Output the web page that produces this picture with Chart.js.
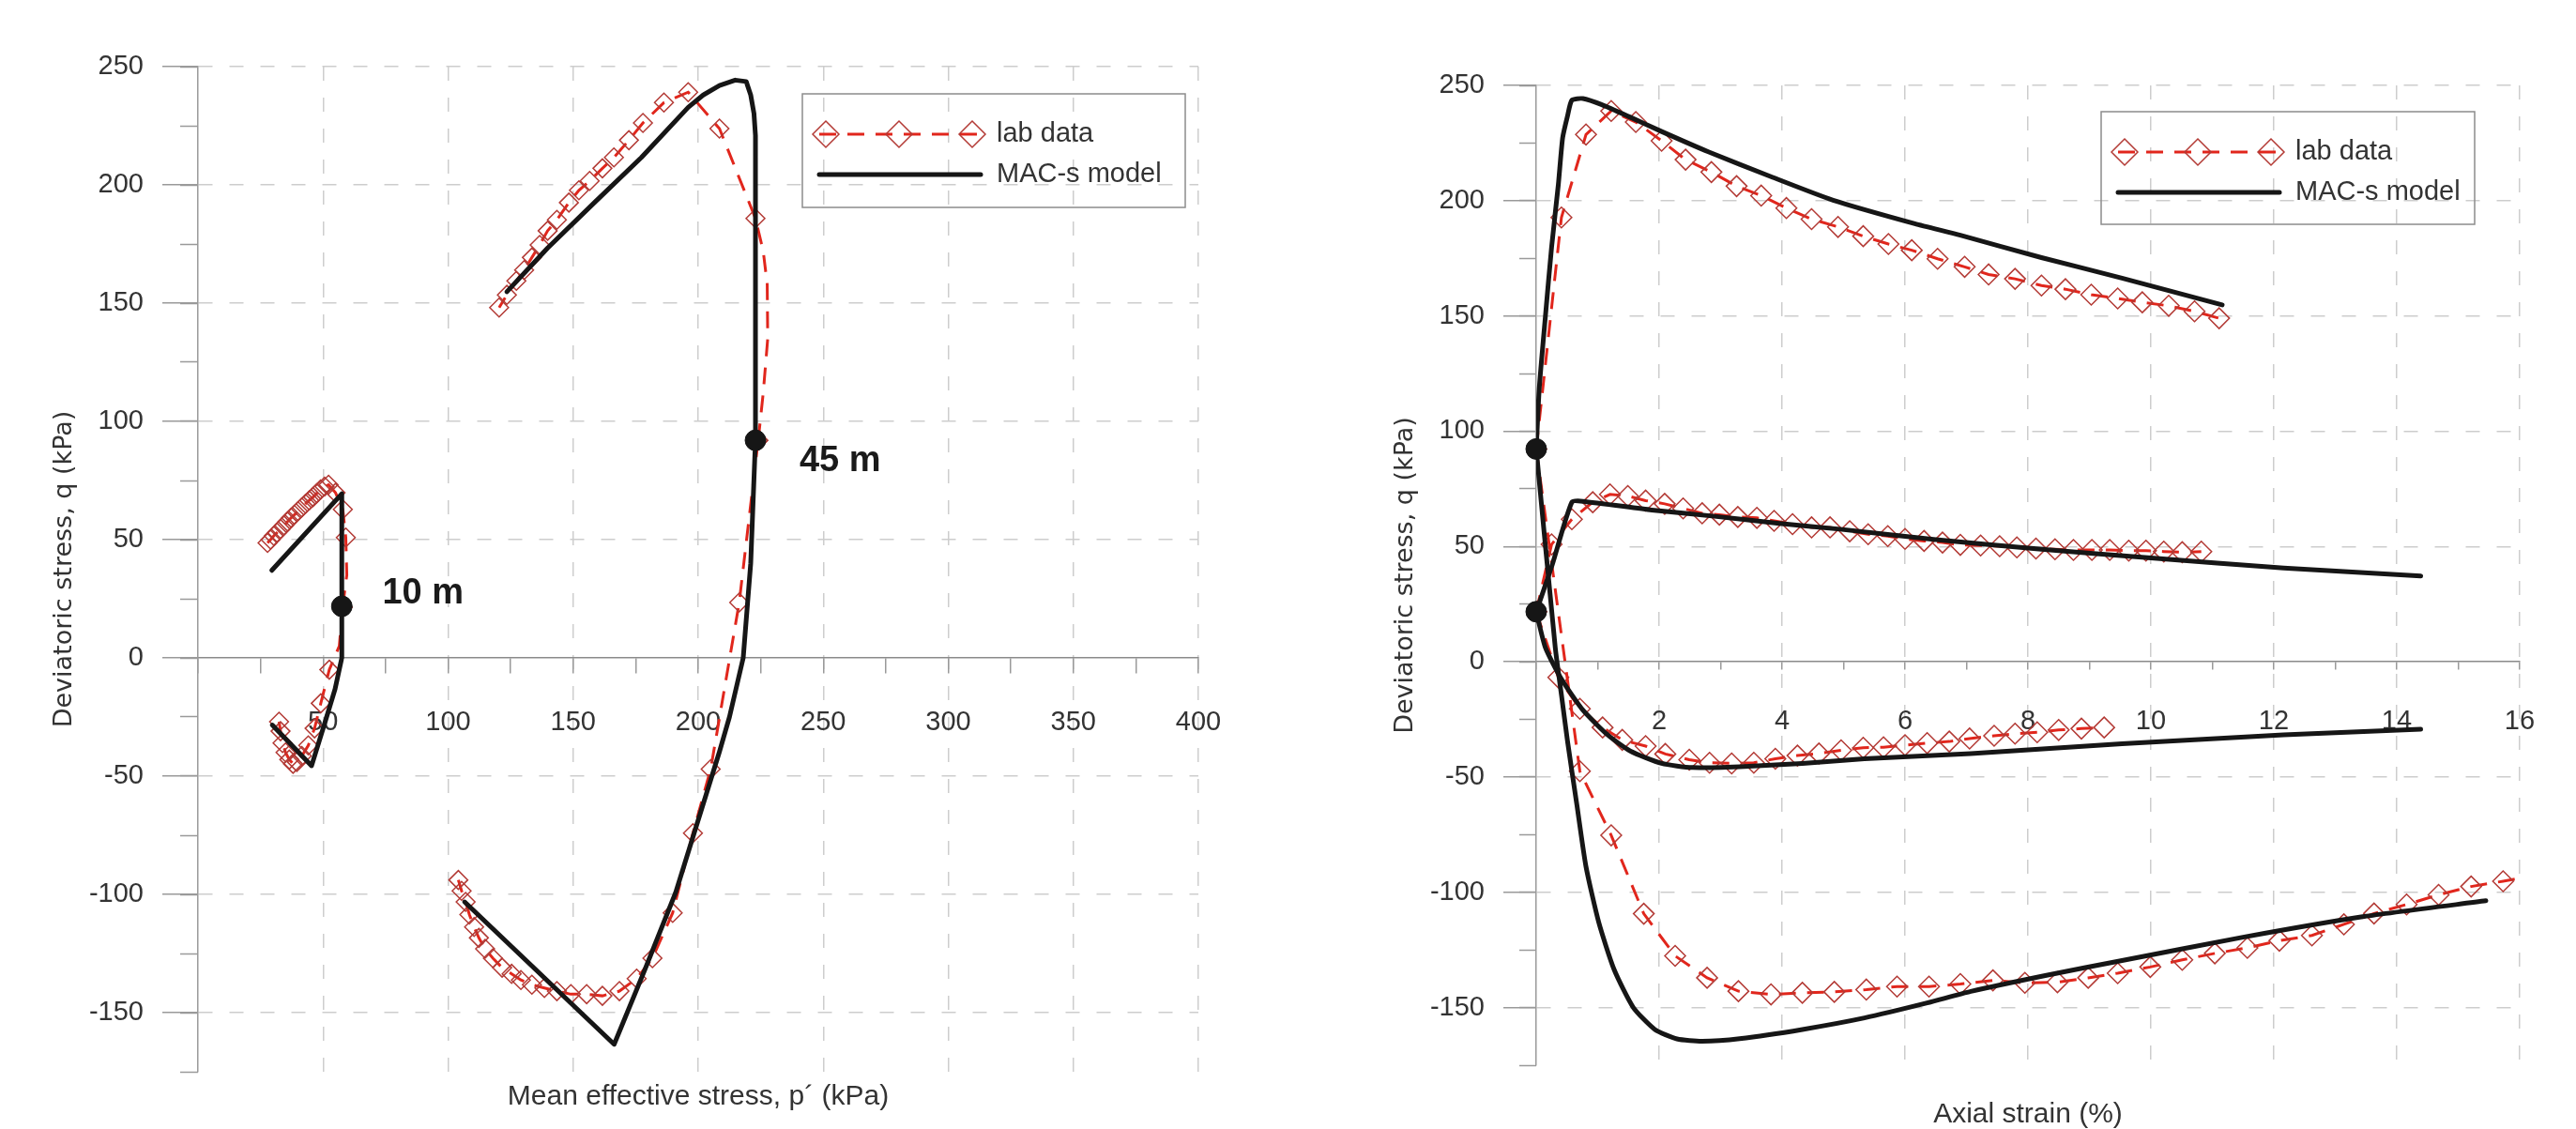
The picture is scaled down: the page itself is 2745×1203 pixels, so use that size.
<!DOCTYPE html>
<html>
<head>
<meta charset="utf-8">
<script src="https://cdn.jsdelivr.net/npm/chart.js@4.4.1/dist/chart.umd.min.js"></script>
<style>
  html, body { margin: 0; padding: 0; background: #fff; }
  #wrap { position: relative; width: 2745px; height: 1203px; overflow: hidden; }
  canvas { position: absolute; top: 0; }
  #cLeft  { left: 0; }
  #cRight { left: 1380px; }
</style>
</head>
<body>
<div id="wrap">
  <canvas id="cLeft" width="1380" height="1203"></canvas>
  <canvas id="cRight" width="1365" height="1203"></canvas>
</div>
<script>
// ── stress path p'–q (left) ─────────────────────────────
var pDots = [222.9, 57.5];
var qDots = [92.0, 21.8];

var p45cLab = [224.0, 226.0, 227.8, 227.6, 226.0, 222.9, 208.5, 196.0, 186.3, 177.9, 172.3, 166.3, 161.7, 156.6, 152.3, 148.3, 143.5, 139.8, 136.6, 133.5, 130.4, 127.3, 123.5, 120.4];
var q45cLab = [92.0, 112.0, 135.0, 158.0, 172.0, 185.8, 223.8, 239.2, 234.8, 226.2, 218.9, 211.6, 207.0, 201.7, 197.7, 192.5, 185.2, 180.6, 174.6, 169.3, 164.0, 159.4, 153.5, 148.1];
var p45eLab = [224.0, 216.4, 205.0, 197.9, 189.8, 181.7, 175.4, 168.5, 161.7, 155.4, 149.1, 143.5, 138.5, 133.5, 129.1, 125.4, 121.6, 117.9, 114.8, 112.3, 110.4, 108.5, 107.0, 105.4, 104.1];
var q45eLab = [92.0, 23.4, -47.0, -74.1, -107.8, -127.0, -135.6, -140.9, -142.9, -142.2, -142.2, -140.9, -139.6, -138.2, -136.2, -133.6, -131.0, -127.0, -123.0, -118.4, -113.8, -108.5, -103.2, -98.5, -93.9];
var p45cMod = [222.9, 222.9, 222.3, 221.0, 219.2, 214.8, 208.5, 202.0, 196.0, 177.3, 158.5, 139.8, 123.5];
var q45cMod = [92.0, 220.9, 230.2, 238.0, 243.7, 244.3, 242.0, 238.0, 232.8, 211.6, 192.5, 173.3, 154.8];
var p45eMod = [222.9, 221.0, 218.0, 212.5, 208.5, 191.0, 178.5, 166.4, 106.6];
var q45eMod = [92.0, 40.0, 0.0, -25.0, -39.7, -99.2, -132.3, -163.4, -103.2];

var p10cLab = [57.8, 59.5, 59.1, 57.9, 55.0, 52.2, 50.6, 49.0, 47.5, 46.0, 44.5, 43.0, 41.5, 40.0, 38.5, 37.2, 35.8, 34.4, 33.0, 31.6, 30.3, 29.0, 27.8];
var q10cLab = [21.4, 35.0, 50.9, 62.8, 69.8, 73.2, 72.4, 71.2, 69.6, 68.0, 66.6, 65.2, 63.6, 62.0, 60.5, 59.2, 57.6, 56.0, 54.5, 53.0, 51.6, 50.0, 48.6];
var p10eLab = [57.8, 56.5, 52.5, 49.1, 46.6, 44.1, 41.5, 39.5, 38.0, 36.5, 35.0, 33.8, 33.0, 32.4];
var q10eLab = [21.4, 5.0, -5.0, -19.2, -29.8, -37.0, -41.5, -44.0, -44.8, -43.0, -40.0, -36.0, -31.0, -27.0];
var p10cMod = [57.5, 57.5, 29.5];
var q10cMod = [21.8, 69.4, 37.0];
var p10eMod = [57.5, 57.5, 54.8, 51.0, 45.4, 29.7];
var q10eMod = [21.8, 0.0, -13.2, -26.5, -45.6, -28.4];

// points of the lab curves that are drawn as line only (no marker)
var lineOnly45c = [1, 2, 3, 4];
var lineOnly10c = [1];
var lineOnly10e = [1];

// ── q vs axial strain (right) ───────────────────────────
var eDots = [0, 0];
var qeDots = [92.3, 21.7];

var e45cMod = [0, 0.05, 0.15, 0.25, 0.36, 0.43, 0.51, 0.58, 0.76, 1.07, 1.53, 2.04, 2.8, 3.82, 4.83, 6.16, 6.9, 8.22, 9.53, 11.16];
var r45cMod = [92.3, 118.8, 150, 179.8, 207, 227.3, 236.8, 243.6, 244.3, 241.6, 236.2, 230, 221.2, 210.4, 200.2, 190, 185, 175.3, 166.4, 154.8];
var e45cLab = [0, 0.41, 0.81, 1.22, 1.62, 2.04, 2.43, 2.85, 3.26, 3.66, 4.07, 4.48, 4.91, 5.32, 5.73, 6.11, 6.53, 6.97, 7.36, 7.79, 8.22, 8.61, 9.03, 9.46, 9.86, 10.29, 10.71, 11.11];
var r45cLab = [92.3, 192.7, 228.7, 238.9, 234.1, 226, 217.8, 212.4, 206.3, 202.2, 196.8, 192, 188.6, 184.6, 181.2, 178.5, 174.8, 171.3, 168, 166.1, 163.2, 161.6, 159.2, 157.6, 155.9, 154.4, 152, 149];

var e10cMod = [0, 0.26, 0.58, 0.76, 1.88, 2.9, 3.92, 4.94, 6.5, 8.22, 10.0, 12.16, 14.39];
var r10cMod = [21.7, 42, 69.2, 69.6, 65.8, 63.1, 60.1, 57.5, 53, 48.8, 45, 40.7, 37.2];
var e10cLab = [0, 0.25, 0.58, 0.92, 1.2, 1.49, 1.78, 2.09, 2.39, 2.7, 2.98, 3.28, 3.59, 3.87, 4.17, 4.48, 4.78, 5.1, 5.4, 5.72, 6.0, 6.31, 6.61, 6.9, 7.23, 7.54, 7.82, 8.13, 8.44, 8.74, 9.04, 9.33, 9.64, 9.92, 10.21, 10.51, 10.82];
var r10cLab = [21.7, 50.9, 61.8, 69.2, 72.6, 71.9, 69.9, 68.5, 66.5, 64.4, 63.8, 62.8, 62.4, 61.1, 59.7, 58.3, 58.3, 56.6, 55.3, 54.5, 53.3, 52.4, 51.7, 50.7, 50.4, 50.1, 49.6, 49.1, 48.8, 48.5, 48.5, 48.5, 48.2, 48.2, 47.8, 47.5, 47.8];

var e10eMod = [0, 0.15, 0.41, 0.76, 1.17, 1.53, 2.04, 2.54, 3.31, 4.33, 5.34, 7.07, 9.53, 12.16, 14.39];
var r10eMod = [21.7, 6.1, -7.5, -21, -31.9, -38.7, -44.1, -45.9, -45.5, -44.1, -42.1, -39.8, -35.6, -31.7, -29.3];
var e10eLab = [0, 0.36, 0.71, 1.08, 1.4, 1.78, 2.1, 2.49, 2.82, 3.18, 3.54, 3.89, 4.25, 4.6, 4.96, 5.32, 5.65, 6.0, 6.36, 6.72, 7.05, 7.45, 7.79, 8.15, 8.5, 8.87, 9.24];
var r10eLab = [21.7, -6.8, -20.4, -28.5, -33.9, -36.6, -40, -42.5, -43.8, -44.1, -43.8, -42.1, -40.7, -39.8, -38.4, -37.3, -37.1, -36.2, -35.3, -34.6, -33.3, -32.1, -31.2, -30.6, -29.6, -29, -28.5];

var e45eMod = [0, 0.31, 0.41, 0.51, 0.66, 0.81, 1.02, 1.27, 1.58, 1.93, 2.29, 2.7, 3.31, 4.33, 5.34, 6.36, 7.07, 8.3, 9.53, 11.5, 13.47, 15.45];
var r45eMod = [92.3, 6.1, -14.3, -34.6, -61.8, -88.9, -113.3, -133.7, -150, -159.5, -163.6, -164.6, -163.5, -159.5, -154.5, -148, -143, -136, -129.6, -119.5, -110.5, -103.7];
var e45eLab = [0, 0.71, 1.22, 1.75, 2.26, 2.78, 3.29, 3.82, 4.33, 4.85, 5.37, 5.87, 6.39, 6.9, 7.43, 7.95, 8.48, 8.98, 9.46, 9.99, 10.51, 11.04, 11.57, 12.09, 12.62, 13.14, 13.63, 14.16, 14.68, 15.21, 15.73, 16.3];
var r45eLab = [92.3, -47.5, -75.3, -109.3, -127.6, -137.1, -142.9, -144.3, -143.6, -143.2, -142.2, -140.9, -140.9, -139.8, -138.2, -139.3, -139, -137.1, -135.1, -132.4, -129.3, -126.5, -124.1, -121, -118.7, -113.9, -109.2, -105.3, -101.1, -97.5, -95.2, -92.5];

// ── styles ──────────────────────────────────────────────
var RED_LINE = "#e1261c";
var RED_MARK = "#b33a35";
var BLACK    = "#161616";
var GRID     = "#cdcdcd";
var AXIS     = "#9a9a9a";
var DASH     = [15, 18];
var SANS     = '"Liberation Sans", Arial, sans-serif';

Chart.defaults.font.family = SANS;
Chart.defaults.color = "#333";

function pts(xs, ys) {
  return xs.map(function(x, i) { return { x: x, y: ys[i] }; });
}

function labSet(xs, ys, r, lineOnly) {
  var skip = lineOnly || [];
  return {
    data: pts(xs, ys), showLine: true,
    borderColor: RED_LINE, borderWidth: 3, borderDash: [18, 12],
    pointStyle: "rectRot",
    pointRadius: function(ctx) { return skip.indexOf(ctx.dataIndex) >= 0 ? 0 : r; },
    pointHoverRadius: r,
    pointBorderColor: RED_MARK, pointBorderWidth: 1.5,
    pointBackgroundColor: "rgba(0,0,0,0)", tension: 0
  };
}

function modelSet(xs, ys, tension) {
  return {
    data: pts(xs, ys), showLine: true,
    borderColor: BLACK, borderWidth: 5, pointRadius: 0, pointHoverRadius: 0,
    borderCapStyle: "round", borderJoinStyle: "round", tension: tension
  };
}

function dotSet(xs, ys) {
  return {
    data: pts(xs, ys), showLine: false, clip: false,
    pointRadius: 11, pointHoverRadius: 11,
    pointBackgroundColor: BLACK, pointBorderColor: BLACK
  };
}

function isMajor(v, step) {
  return Math.abs(v / step - Math.round(v / step)) < 1e-6;
}

// legend box and depth labels
function drawDiamond(ctx, x, y, r) {
  ctx.beginPath();
  ctx.moveTo(x - r, y); ctx.lineTo(x, y - r); ctx.lineTo(x + r, y); ctx.lineTo(x, y + r);
  ctx.closePath();
  ctx.stroke();
}

var overlayPlugin = {
  id: "overlay",
  afterDatasetsDraw: function(chart, args, opts) {
    var ctx = chart.ctx;
    var xs = chart.scales.x, ys = chart.scales.y;
    ctx.save();
    (opts.labels || []).forEach(function(l) {
      ctx.font = "bold 38px " + SANS;
      ctx.fillStyle = "#1a1a1a";
      ctx.textAlign = "left";
      ctx.textBaseline = "middle";
      ctx.fillText(l.text, xs.getPixelForValue(l.x), ys.getPixelForValue(l.y));
    });
    var b = opts.box;
    if (b) {
      ctx.strokeStyle = "#8c8c8c"; ctx.lineWidth = 1.5;
      ctx.strokeRect(b.x, b.y, b.w, b.h);
      var y1 = b.y + 43, y2 = b.y + 86;
      ctx.strokeStyle = RED_LINE; ctx.lineWidth = 3; ctx.setLineDash([18, 12]);
      ctx.beginPath(); ctx.moveTo(b.x + 18, y1); ctx.lineTo(b.x + 190, y1); ctx.stroke();
      ctx.setLineDash([]);
      ctx.strokeStyle = RED_MARK; ctx.lineWidth = 1.5;
      [25, 103, 181].forEach(function(dx) { drawDiamond(ctx, b.x + dx, y1, 14); });
      ctx.strokeStyle = BLACK; ctx.lineWidth = 5; ctx.lineCap = "round";
      ctx.beginPath(); ctx.moveTo(b.x + 18, y2); ctx.lineTo(b.x + 190, y2); ctx.stroke();
      ctx.font = "29px " + SANS; ctx.fillStyle = "#333";
      ctx.textAlign = "left"; ctx.textBaseline = "middle";
      ctx.fillText("lab data", b.x + 207, y1);
      ctx.fillText("MAC-s model", b.x + 207, y2);
    }
    ctx.restore();
  }
};

function makeChart(canvasId, datasets, c) {
  var tickFont = { size: 29, lineHeight: 1.2 };
  return new Chart(document.getElementById(canvasId), {
    type: "scatter",
    data: { datasets: datasets },
    options: {
      responsive: false,
      animation: false,
      events: [],
      layout: { padding: { left: 0, top: c.top, right: c.right, bottom: 0 } },
      plugins: {
        legend: { display: false },
        tooltip: { enabled: false },
        overlay: { labels: c.labels, box: c.box }
      },
      scales: {
        x: {
          type: "linear", position: { y: 0 }, min: 0, max: c.xMax,
          ticks: {
            stepSize: c.xStep, autoSkip: false, maxRotation: 0, padding: c.xLabelPad,
            font: tickFont, color: "#333",
            callback: function(v) { return (v !== 0 && isMajor(v, c.xMajor)) ? String(v) : ""; }
          },
          grid: {
            lineWidth: 1.5, tickLength: c.xTick, tickWidth: 1.5, tickColor: AXIS,
            color: function(ctx) {
              var v = ctx.tick ? ctx.tick.value : 0;
              return (v !== 0 && isMajor(v, c.xMajor)) ? GRID : "rgba(0,0,0,0)";
            }
          },
          border: { display: true, color: "#8a8a8a", width: 1.5, dash: DASH }
        },
        xt: {
          axis: "x", type: "linear", position: "bottom", min: 0, max: c.xMax,
          ticks: { display: false }, grid: { display: false }, border: { display: false },
          title: {
            display: true, text: c.xTitle, color: "#333",
            font: { size: 30, lineHeight: 1 }, padding: { top: 0, bottom: c.xTitlePad }
          },
          afterFit: function(s) { s.height = c.xtHeight; }
        },
        y: {
          type: "linear", position: "left", min: -175, max: 250,
          ticks: {
            stepSize: 25, autoSkip: false, padding: 20, font: tickFont, color: "#333",
            callback: function(v) { return isMajor(v, 50) ? String(v) : ""; }
          },
          grid: {
            lineWidth: 1.5, tickLength: c.yTick, tickWidth: 1.5,
            color: function(ctx) {
              var v = ctx.tick ? ctx.tick.value : 0;
              return (v !== 0 && isMajor(v, 50)) ? GRID : "rgba(0,0,0,0)";
            },
            tickColor: function(ctx) {
              var v = ctx.tick ? ctx.tick.value : 0;
              return isMajor(v, 50) ? AXIS : "rgba(0,0,0,0)";
            }
          },
          border: { display: true, color: AXIS, width: 1.5, dash: DASH },
          title: {
            display: true, text: "Deviatoric stress, q (kPa)", color: "#333",
            font: { family: '"DejaVu Sans", Verdana, sans-serif', size: 27, lineHeight: 1 },
            padding: { top: c.yTitlePad, bottom: 0 }
          },
          afterFit: function(s) { s.width = c.yWidth; }
        },
        yMinor: {
          axis: "y", type: "linear", position: { x: 0 }, min: -175, max: 250,
          ticks: { display: false, stepSize: 25 },
          grid: { drawOnChartArea: false, tickLength: Math.round(c.yTick / 2), tickWidth: 1.5, tickColor: AXIS },
          border: { display: false }
        }
      }
    },
    plugins: [overlayPlugin]
  });
}

// ── left: p'–q ──────────────────────────────────────────
makeChart("cLeft", [
  dotSet(pDots, qDots),
  modelSet(p45cMod, q45cMod, 0),
  modelSet(p45eMod, q45eMod, 0),
  modelSet(p10cMod, q10cMod, 0),
  modelSet(p10eMod, q10eMod, 0),
  labSet(p45cLab, q45cLab, 10, lineOnly45c),
  labSet(p45eLab, q45eLab, 10),
  labSet(p10cLab, q10cLab, 10, lineOnly10c),
  labSet(p10eLab, q10eLab, 10, lineOnly10e)
], {
  top: 71, right: 103, yWidth: 211, xtHeight: 61,
  xMax: 400, xStep: 25, xMajor: 50, xTick: 16, xLabelPad: 36,
  yTick: 38, yTitlePad: 55, xTitlePad: 19,
  xTitle: "Mean effective stress, p\u00b4 (kPa)",
  labels: [{ text: "45 m", x: 240.5, y: 83 }, { text: "10 m", x: 73.7, y: 27 }],
  box: { x: 855, y: 100, w: 408, h: 121 }
});

// ── right: q vs axial strain ────────────────────────────
makeChart("cRight", [
  dotSet(eDots, qeDots),
  modelSet(e45cMod, r45cMod, 0.2),
  modelSet(e45eMod, r45eMod, 0.2),
  modelSet(e10cMod, r10cMod, 0.2),
  modelSet(e10eMod, r10eMod, 0.2),
  labSet(e45cLab, r45cLab, 11),
  labSet(e45eLab, r45eLab, 11),
  labSet(e10cLab, r10cLab, 11),
  labSet(e10eLab, r10eLab, 11)
], {
  top: 91, right: 60, yWidth: 257, xtHeight: 68,
  xMax: 16, xStep: 1, xMajor: 2, xTick: 8, xLabelPad: 38,
  yTick: 35, yTitlePad: 104, xTitlePad: 0,
  xTitle: "Axial strain (%)",
  labels: [],
  box: { x: 859, y: 119, w: 398, h: 120 }
});
</script>
</body>
</html>
